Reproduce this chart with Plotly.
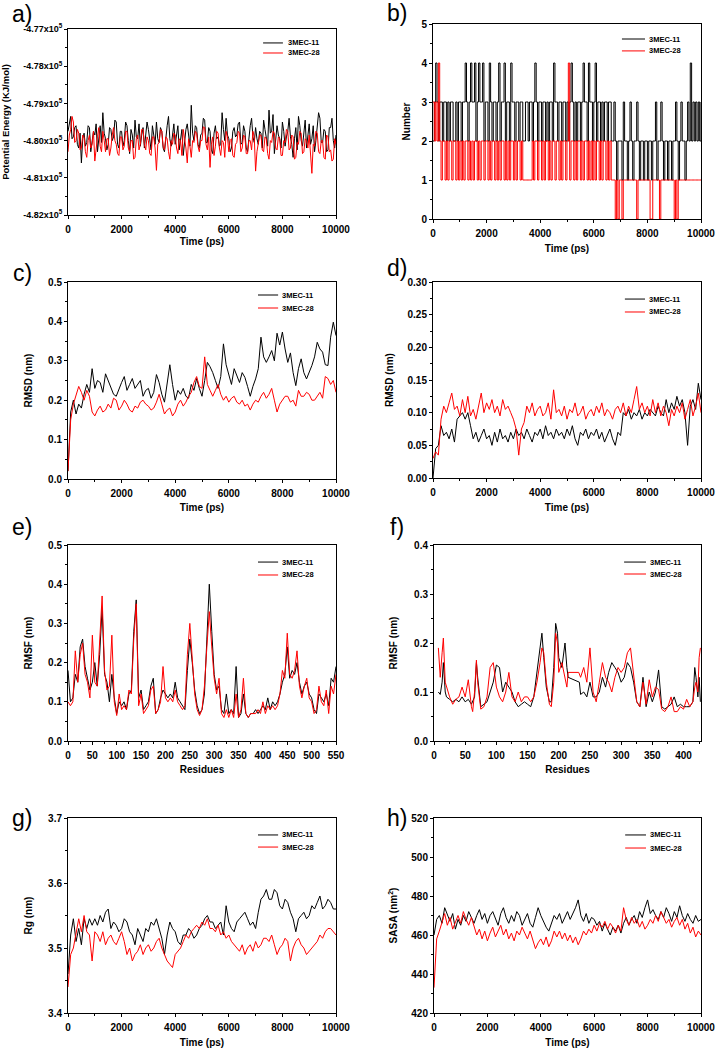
import plotly.graph_objects as go

# ---------------- data ----------------
TIME_PS = list(range(0, 10001, 100))
TIME_PS_FINE = list(range(0, 10001, 50))
SERIES_NAMES = ["3MEC-11", "3MEC-28"]

# a) potential energy, units of 10^5 kJ/mol (sampled every 50 ps)
PE_11 = [-4.7975,-4.7950,-4.7935,-4.7995,-4.7990,-4.7965,-4.7960,-4.8010,-4.8020,-4.7980,
         -4.8060,-4.7995,-4.7980,-4.8015,-4.8005,-4.7960,-4.7965,-4.8030,-4.8000,-4.7975,
         -4.7985,-4.7955,-4.8030,-4.7990,-4.7960,-4.8005,-4.7925,-4.7980,-4.7995,-4.8025,
         -4.8010,-4.7965,-4.7970,-4.8000,-4.7990,-4.7945,-4.7950,-4.8010,-4.8020,-4.7975,
         -4.7975,-4.8015,-4.8000,-4.7950,-4.7960,-4.8000,-4.8035,-4.7970,-4.7985,-4.8020,
         -4.7945,-4.7990,-4.7995,-4.7955,-4.8015,-4.7985,-4.7965,-4.8020,-4.7990,-4.7950,
         -4.7970,-4.8005,-4.8025,-4.7960,-4.7980,-4.8010,-4.7950,-4.7995,-4.8005,-4.7965,
         -4.7975,-4.8020,-4.8030,-4.7985,-4.7960,-4.7935,-4.7995,-4.8015,-4.7985,-4.7955,
         -4.8010,-4.7990,-4.7960,-4.8025,-4.7990,-4.7970,-4.8040,-4.8000,-4.7970,-4.7955,
         -4.7995,-4.8015,-4.7905,-4.7980,-4.8000,-4.7960,-4.7965,-4.8010,-4.8020,-4.7985,
         -4.7980,-4.7940,-4.7945,-4.8005,-4.8005,-4.7965,-4.7975,-4.8025,-4.8035,-4.7980,
         -4.7960,-4.7995,-4.7990,-4.8015,-4.8010,-4.7925,-4.7970,-4.8000,-4.7940,-4.7985,
         -4.7995,-4.8030,-4.8020,-4.7975,-4.7965,-4.7990,-4.7985,-4.7955,-4.7950,-4.8010,
         -4.8005,-4.7960,-4.7975,-4.8020,-4.8030,-4.7985,-4.7960,-4.7940,-4.7990,-4.8005,
         -4.7965,-4.7995,-4.8010,-4.7975,-4.7980,-4.8020,-4.7945,-4.7970,-4.8000,-4.8015,
         -4.7918,-4.7980,-4.7975,-4.7930,-4.8035,-4.8000,-4.7960,-4.7985,-4.7995,-4.8020,
         -4.7950,-4.7975,-4.8015,-4.7990,-4.7975,-4.7940,-4.7990,-4.8010,-4.8045,-4.7995,
         -4.7965,-4.8025,-4.7935,-4.7960,-4.8000,-4.8015,-4.7970,-4.7945,-4.8020,-4.7990,
         -4.7955,-4.8010,-4.7995,-4.7960,-4.8030,-4.8000,-4.7960,-4.7925,-4.7940,-4.8005,
         -4.8005,-4.7970,-4.7975,-4.8030,-4.8025,-4.7965,-4.7965,-4.7940,-4.8000,-4.8020,
         -4.7985]
PE_28 = [-4.8030,-4.7985,-4.7970,-4.7935,-4.7950,-4.8005,-4.8000,-4.7970,-4.7980,-4.8025,
         -4.8020,-4.7985,-4.7990,-4.8030,-4.8045,-4.8000,-4.7985,-4.8020,-4.8010,-4.7975,
         -4.8055,-4.8010,-4.7990,-4.7965,-4.8015,-4.8030,-4.7975,-4.8000,-4.8030,-4.7995,
         -4.7995,-4.8040,-4.8020,-4.7985,-4.7965,-4.8000,-4.8010,-4.8035,-4.8040,-4.7990,
         -4.7990,-4.8025,-4.8015,-4.7975,-4.7975,-4.8020,-4.8030,-4.8000,-4.8000,-4.8050,
         -4.8045,-4.7995,-4.7985,-4.8025,-4.8010,-4.7970,-4.7970,-4.8010,-4.8025,-4.7990,
         -4.8000,-4.8035,-4.8040,-4.7990,-4.7990,-4.8020,-4.8080,-4.8010,-4.8005,-4.7970,
         -4.7975,-4.8015,-4.8025,-4.7990,-4.7995,-4.8030,-4.8050,-4.8000,-4.8010,-4.7980,
         -4.7985,-4.8020,-4.8035,-4.7995,-4.8000,-4.8040,-4.7970,-4.7995,-4.8020,-4.8060,
         -4.7995,-4.8015,-4.8045,-4.8000,-4.8005,-4.7975,-4.7980,-4.8015,-4.8030,-4.8000,
         -4.8000,-4.7963,-4.7965,-4.8010,-4.8025,-4.7990,-4.8072,-4.8010,-4.7990,-4.8040,
         -4.8015,-4.7975,-4.7980,-4.8020,-4.8040,-4.8000,-4.8005,-4.8045,-4.7975,-4.7990,
         -4.8030,-4.8000,-4.7995,-4.8040,-4.8045,-4.8010,-4.8005,-4.7975,-4.7980,-4.8030,
         -4.8020,-4.7985,-4.7990,-4.8035,-4.8035,-4.8000,-4.8000,-4.8025,-4.7975,-4.7990,
         -4.8082,-4.8030,-4.8010,-4.7985,-4.7985,-4.8025,-4.8030,-4.7990,-4.7995,-4.8035,
         -4.8050,-4.8000,-4.8005,-4.7975,-4.7980,-4.8020,-4.8025,-4.7990,-4.7995,-4.8040,
         -4.8040,-4.8000,-4.8005,-4.7970,-4.7975,-4.8025,-4.8020,-4.7985,-4.7990,-4.8050,
         -4.8045,-4.8005,-4.8010,-4.7975,-4.7980,-4.8035,-4.8030,-4.7995,-4.8000,-4.8020,
         -4.7985,-4.8040,-4.8088,-4.8010,-4.8015,-4.7975,-4.7980,-4.8030,-4.8035,-4.8000,
         -4.8000,-4.8045,-4.8050,-4.7985,-4.7990,-4.8030,-4.8025,-4.8055,-4.8050,-4.7995,
         -4.8010]
PE_TICKS = [-4.82, -4.81, -4.80, -4.79, -4.78, -4.77]

# b) number of hydrogen bonds (sampled every 50 ps)
HB_11 = [2,3,4,3,2,3,3,2,3,3, 2,3,2,3,3,2,2,3,2,3, 3,2,3,3,4,3,2,3,4,3,
         3,4,2,3,4,3,3,4,2,3, 3,2,4,3,2,3,3,2,3,4, 2,3,3,4,2,3,3,2,4,3,
         3,2,3,3,2,3,3,2,2,3, 3,2,3,3,2,3,4,3,2,3, 3,2,3,3,2,3,2,3,3,2,
         4,3,3,2,3,3,2,3,3,2, 3,2,3,4,3,2,3,2,3,3, 2,3,4,3,3,2,4,3,3,2,
         3,4,2,3,3,2,3,2,3,3, 2,3,3,2,2,3,2,1,2,2, 2,1,3,2,2,1,2,3,2,1,
         2,2,3,2,1,2,2,1,2,2, 1,2,2,1,2,2,3,1,2,2, 3,2,1,2,2,1,2,2,1,2,
         2,3,2,1,2,3,2,2,1,2, 3,2,4,2,3,2,3,2,3,2, 3]
HB_28 = [3,2,3,2,4,2,1,2,2,1, 2,1,2,2,1,2,2,1,2,1, 2,1,2,1,2,2,1,2,1,2,
         1,2,2,1,2,1,2,2,1,2, 2,1,2,1,2,2,1,2,1,2, 1,2,2,1,2,1,2,1,2,2,
         1,2,1,2,2,1,2,1,1,1, 1,1,1,1,2,1,2,2,1,2, 2,1,2,1,2,2,1,2,1,2,
         2,1,2,2,1,2,1,2,2,1, 2,4,1,2,2,1,2,1,2,2, 1,2,1,2,2,1,2,1,2,1,
         2,1,2,2,1,2,1,2,2,1, 2,1,2,1,1,1,0,1,0,1, 1,0,1,1,1,1,1,1,1,1,
         1,1,0,1,1,1,1,1,1,1, 1,1,0,0,1,1,1,1,1,0, 1,1,1,1,1,1,1,1,1,1,
         0,1,0,1,1,1,1,1,1,1, 1,1,1,1,1,1,1,1,1,1, 1]

# c) backbone RMSD (nm)
RMSD_C_11 = [0.02,0.17,0.20,0.165,0.19,0.18,0.215,0.24,0.22,0.28,
             0.23,0.25,0.245,0.22,0.267,0.25,0.23,0.215,0.21,0.23,
             0.245,0.26,0.225,0.24,0.255,0.23,0.24,0.25,0.21,0.225,
             0.23,0.205,0.22,0.265,0.245,0.215,0.195,0.25,0.29,0.24,
             0.20,0.225,0.215,0.23,0.21,0.205,0.24,0.225,0.255,0.23,
             0.21,0.25,0.296,0.285,0.27,0.25,0.23,0.26,0.343,0.29,
             0.262,0.24,0.28,0.26,0.245,0.27,0.258,0.235,0.21,0.235,
             0.254,0.28,0.36,0.31,0.296,0.31,0.326,0.30,0.37,0.34,
             0.373,0.33,0.296,0.32,0.27,0.237,0.28,0.305,0.27,0.254,
             0.27,0.288,0.31,0.347,0.33,0.322,0.29,0.288,0.36,0.398,
             0.364]
RMSD_C_28 = [0.02,0.15,0.19,0.21,0.235,0.22,0.20,0.225,0.21,0.17,
             0.16,0.175,0.185,0.17,0.175,0.19,0.18,0.205,0.20,0.175,
             0.185,0.20,0.19,0.175,0.17,0.185,0.18,0.195,0.20,0.19,
             0.185,0.175,0.18,0.195,0.215,0.19,0.165,0.175,0.18,0.16,
             0.17,0.19,0.20,0.185,0.195,0.21,0.22,0.245,0.26,0.235,
             0.23,0.31,0.24,0.225,0.21,0.225,0.24,0.215,0.20,0.21,
             0.195,0.205,0.21,0.195,0.19,0.20,0.185,0.19,0.175,0.19,
             0.20,0.195,0.21,0.22,0.205,0.215,0.23,0.20,0.17,0.19,
             0.20,0.21,0.21,0.195,0.20,0.185,0.225,0.21,0.21,0.22,
             0.215,0.20,0.20,0.21,0.22,0.205,0.26,0.255,0.24,0.25,
             0.22]

# d) ligand RMSD (nm)
RMSD_D_11 = [0.0,0.045,0.05,0.08,0.065,0.07,0.06,0.075,0.055,0.09,
             0.095,0.10,0.09,0.10,0.08,0.06,0.07,0.055,0.065,0.075,
             0.06,0.065,0.05,0.07,0.055,0.075,0.06,0.065,0.055,0.07,
             0.06,0.075,0.065,0.07,0.06,0.075,0.065,0.055,0.07,0.065,
             0.075,0.06,0.08,0.065,0.07,0.06,0.075,0.065,0.07,0.06,
             0.075,0.065,0.08,0.06,0.05,0.07,0.065,0.075,0.06,0.07,
             0.065,0.075,0.06,0.07,0.055,0.065,0.075,0.06,0.05,0.07,
             0.065,0.10,0.095,0.105,0.09,0.10,0.095,0.105,0.09,0.10,
             0.095,0.105,0.10,0.095,0.11,0.10,0.095,0.12,0.10,0.115,
             0.105,0.125,0.11,0.12,0.10,0.05,0.11,0.12,0.105,0.145,
             0.12]
RMSD_D_28 = [0.03,0.04,0.035,0.09,0.11,0.10,0.115,0.13,0.105,0.11,
             0.095,0.12,0.10,0.125,0.095,0.105,0.09,0.11,0.13,0.10,
             0.115,0.105,0.12,0.10,0.11,0.095,0.12,0.105,0.11,0.10,
             0.09,0.075,0.035,0.075,0.085,0.11,0.10,0.115,0.095,0.105,
             0.11,0.095,0.10,0.115,0.09,0.135,0.10,0.105,0.095,0.11,
             0.09,0.105,0.10,0.115,0.095,0.10,0.11,0.09,0.10,0.105,
             0.095,0.11,0.10,0.115,0.095,0.105,0.10,0.09,0.105,0.11,
             0.10,0.115,0.095,0.11,0.10,0.12,0.14,0.105,0.115,0.10,
             0.11,0.095,0.12,0.10,0.115,0.095,0.11,0.10,0.08,0.105,
             0.095,0.11,0.10,0.115,0.09,0.105,0.12,0.095,0.11,0.13,
             0.10]

# e) RMSF per residue (nm)
RES_E = list(range(0, 551, 5))
RMSF_E_11 = [0.18,0.10,0.11,0.17,0.15,0.24,0.26,0.19,0.16,0.13,
             0.15,0.20,0.14,0.22,0.34,0.17,0.15,0.10,0.17,0.11,
             0.07,0.10,0.09,0.10,0.08,0.12,0.13,0.28,0.36,0.11,
             0.13,0.08,0.09,0.10,0.14,0.16,0.07,0.08,0.11,0.13,
             0.12,0.11,0.12,0.11,0.15,0.11,0.10,0.09,0.08,0.18,
             0.26,0.20,0.13,0.09,0.07,0.08,0.12,0.26,0.40,0.28,
             0.17,0.13,0.14,0.08,0.07,0.12,0.07,0.08,0.07,0.19,
             0.06,0.07,0.12,0.07,0.06,0.07,0.07,0.08,0.07,0.08,
             0.09,0.08,0.11,0.08,0.10,0.09,0.10,0.12,0.15,0.17,
             0.24,0.16,0.18,0.17,0.20,0.15,0.12,0.14,0.15,0.12,
             0.11,0.08,0.07,0.12,0.11,0.10,0.12,0.09,0.16,0.15,
             0.19]
RMSF_E_28 = [0.10,0.09,0.10,0.23,0.15,0.22,0.25,0.17,0.15,0.11,
             0.27,0.15,0.14,0.24,0.37,0.18,0.13,0.14,0.27,0.10,
             0.065,0.12,0.08,0.09,0.08,0.13,0.12,0.26,0.35,0.09,
             0.12,0.07,0.08,0.09,0.13,0.14,0.07,0.08,0.10,0.19,
             0.11,0.10,0.11,0.10,0.13,0.10,0.09,0.08,0.09,0.22,
             0.30,0.22,0.12,0.08,0.065,0.08,0.14,0.24,0.33,0.24,
             0.16,0.12,0.16,0.07,0.06,0.08,0.06,0.08,0.06,0.12,
             0.06,0.08,0.16,0.07,0.06,0.07,0.07,0.07,0.08,0.07,
             0.10,0.07,0.09,0.08,0.09,0.08,0.09,0.12,0.18,0.16,
             0.275,0.17,0.16,0.18,0.23,0.14,0.11,0.14,0.16,0.11,
             0.10,0.07,0.08,0.14,0.10,0.09,0.13,0.07,0.14,0.12,
             0.17]

# f) RMSF per residue (nm)
RES_F_11 = [7,10,13,15,18,20,25,30,35,40,45,50,55,60,65,68,70,75,80,85,90,95,100,105,110,
            115,120,125,130,135,140,145,150,155,160,165,170,173,176,180,185,188,192,195,198,
            200,205,210,213,215,233,235,240,245,250,255,260,265,270,275,280,285,290,295,300,
            305,310,315,320,325,330,335,340,345,350,355,360,365,370,375,380,385,390,395,400,
            405,410,415,418,420,423,425,427]
RMSF_F_11 = [0.10,0.095,0.12,0.16,0.10,0.09,0.085,0.08,0.085,0.08,0.09,0.08,0.085,0.075,0.09,
             0.16,0.13,0.07,0.075,0.08,0.10,0.12,0.155,0.15,0.10,0.12,0.11,0.10,0.08,0.07,
             0.075,0.08,0.075,0.07,0.09,0.14,0.20,0.22,0.17,0.11,0.08,0.08,0.15,0.24,0.22,
             0.17,0.15,0.20,0.15,0.13,0.12,0.095,0.10,0.09,0.12,0.09,0.09,0.10,0.13,0.11,
             0.14,0.16,0.15,0.14,0.12,0.13,0.16,0.15,0.12,0.08,0.07,0.13,0.07,0.10,0.08,
             0.10,0.145,0.07,0.065,0.07,0.075,0.09,0.07,0.075,0.07,0.07,0.07,0.08,0.15,0.13,
             0.09,0.13,0.08]
RES_F_28 = [7,10,13,15,18,20,25,30,35,40,45,50,55,60,62,65,68,70,75,80,85,90,95,100,105,
            110,115,120,125,130,135,140,145,150,155,160,165,170,173,176,180,185,188,192,195,
            198,200,205,210,213,215,232,235,240,245,250,255,260,265,270,275,280,285,290,295,
            300,305,310,315,320,325,330,335,340,345,350,355,360,365,370,375,380,385,390,395,
            400,405,410,415,418,420,423,425,427]
RMSF_F_28 = [0.19,0.13,0.18,0.21,0.12,0.11,0.09,0.075,0.085,0.09,0.11,0.09,0.125,0.07,0.06,
             0.10,0.165,0.12,0.065,0.07,0.09,0.15,0.16,0.11,0.09,0.08,0.10,0.14,0.09,0.08,
             0.10,0.08,0.09,0.09,0.08,0.09,0.12,0.16,0.19,0.18,0.12,0.075,0.07,0.12,0.22,
             0.20,0.14,0.16,0.13,0.11,0.14,0.14,0.13,0.15,0.12,0.19,0.10,0.08,0.12,0.16,
             0.13,0.12,0.10,0.13,0.15,0.14,0.15,0.18,0.19,0.13,0.08,0.07,0.12,0.075,0.125,
             0.09,0.11,0.105,0.065,0.06,0.07,0.09,0.06,0.06,0.07,0.065,0.085,0.07,0.08,0.11,
             0.12,0.10,0.17,0.19]

# g) radius of gyration (nm)
RG_11 = [3.46,3.52,3.545,3.51,3.53,3.505,3.545,3.53,3.545,3.535,
         3.545,3.535,3.55,3.54,3.555,3.56,3.53,3.54,3.535,3.525,
         3.53,3.545,3.54,3.525,3.52,3.505,3.53,3.52,3.51,3.53,
         3.525,3.54,3.535,3.545,3.53,3.515,3.49,3.52,3.54,3.53,
         3.525,3.51,3.505,3.52,3.52,3.53,3.525,3.515,3.52,3.53,
         3.535,3.545,3.55,3.54,3.54,3.53,3.535,3.54,3.52,3.565,
         3.54,3.53,3.525,3.54,3.545,3.55,3.555,3.545,3.535,3.54,
         3.53,3.555,3.575,3.58,3.59,3.575,3.575,3.59,3.585,3.565,
         3.56,3.575,3.57,3.555,3.545,3.525,3.545,3.55,3.555,3.545,
         3.55,3.565,3.56,3.57,3.58,3.56,3.565,3.575,3.57,3.56,
         3.56]
RG_28 = [3.44,3.49,3.50,3.52,3.545,3.525,3.55,3.525,3.52,3.48,
         3.525,3.52,3.51,3.525,3.505,3.515,3.52,3.51,3.505,3.515,
         3.525,3.51,3.49,3.50,3.48,3.49,3.495,3.505,3.49,3.50,
         3.505,3.495,3.50,3.51,3.515,3.50,3.49,3.48,3.475,3.47,
         3.49,3.495,3.50,3.51,3.52,3.515,3.525,3.53,3.535,3.53,
         3.54,3.535,3.545,3.53,3.53,3.525,3.535,3.52,3.525,3.515,
         3.52,3.51,3.505,3.50,3.495,3.505,3.49,3.50,3.505,3.495,
         3.51,3.50,3.505,3.515,3.515,3.51,3.52,3.505,3.49,3.50,
         3.505,3.515,3.51,3.48,3.50,3.51,3.515,3.505,3.50,3.49,
         3.495,3.50,3.505,3.51,3.52,3.515,3.525,3.53,3.53,3.525,
         3.52]

# h) SASA (nm^2)
SASA_11 = [460,468,470,466,474,470,467,471,463,468,
           465,470,467,472,469,466,470,473,468,471,
           466,470,472,468,465,471,474,469,466,470,
           467,472,470,465,468,471,466,464,469,474,
           470,467,464,462,466,470,468,471,466,469,
           472,468,471,474,478,470,467,471,466,469,
           468,465,467,462,466,463,460,464,462,465,
           461,466,469,465,468,470,466,472,469,474,
           478,471,473,470,468,472,469,474,471,467,
           472,469,475,470,467,471,468,466,470,467,
           468]
SASA_28 = [433,458,462,466,471,465,469,463,467,470,
           466,472,468,465,469,464,460,463,458,462,
           457,461,464,459,462,465,460,463,458,461,
           457,462,460,464,461,458,462,457,453,456,
           458,455,459,454,457,462,459,462,458,461,
           457,460,456,459,455,458,462,460,463,461,
           465,462,466,464,467,463,466,464,461,465,
           462,474,468,465,469,466,468,464,467,463,
           465,468,466,470,467,472,469,466,468,464,
           467,469,465,468,463,466,461,464,459,462,
           460]

# ---------------- styling ----------------
FONT = "Arial, 'Liberation Sans', sans-serif"
COLORS = ["#000000", "#ff0000"]

W, H = 716, 1049


def fx(px):
    return px / W


def fy(py):
    return 1 - py / H


panels = [
    dict(label="a)", x=(TIME_PS_FINE, TIME_PS_FINE), y=(PE_11, PE_28), shape="linear",
         xd=(68, 336), yd=(29, 215), xr=(0, 10000), yr=(-4.82, -4.77),
         xdt=2000, xm=1000, ydt=0.01, ym=0.005, ytv=PE_TICKS,
         ytt=["%.2fx10<sup>5</sup>" % v for v in PE_TICKS], ytf=9, ttf=9.5,
         xt="Time (ps)", yt="Potential Energy (KJ/mol)", ystand=12, xstand=3,
         leg=(0.728, 0.802, 0.813, 0.925, 0.871), lab=(22, 14)),
    dict(label="b)", x=(TIME_PS_FINE, TIME_PS_FINE), y=(HB_11, HB_28), shape="hv",
         xd=(433, 701), yd=(24, 219), xr=(0, 10000), yr=(0, 5),
         xdt=2000, xm=1000, ydt=1, ym=0.5, tf=None,
         xt="Time (ps)", yt="Number", ystand=8, xstand=6,
         leg=(0.705, 0.791, 0.799, 0.923, 0.862), lab=(397, 13)),
    dict(label="c)", x=(TIME_PS, TIME_PS), y=(RMSD_C_11, RMSD_C_28), shape="linear",
         xd=(68, 336), yd=(282, 479), xr=(0, 10000), yr=(0, 0.5),
         xdt=2000, xm=1000, ydt=0.1, ym=0.05, tf=".1f",
         xt="Time (ps)", yt="RMSD (nm)", ystand=13, xstand=5,
         leg=(0.709, 0.784, 0.791, 0.934, 0.868), lab=(22, 273)),
    dict(label="d)", x=(TIME_PS, TIME_PS), y=(RMSD_D_11, RMSD_D_28), shape="linear",
         xd=(433, 701), yd=(282, 478), xr=(0, 10000), yr=(0, 0.30),
         xdt=2000, xm=1000, ydt=0.05, ym=0.025, tf=".2f",
         xt="Time (ps)", yt="RMSD (nm)", ystand=12, xstand=6,
         leg=(0.716, 0.791, 0.799, 0.913, 0.847), lab=(397, 268)),
    dict(label="e)", x=(RES_E, RES_E), y=(RMSF_E_11, RMSF_E_28), shape="linear",
         xd=(68, 336), yd=(545, 741), xr=(0, 550), yr=(0, 0.5),
         xdt=50, xm=25, ydt=0.1, ym=0.05, tf=".1f",
         xt="Residues", yt="RMSF (nm)", ystand=13, xstand=5,
         leg=(0.709, 0.784, 0.791, 0.913, 0.847), lab=(22, 527)),
    dict(label="f)", x=(RES_F_11, RES_F_28), y=(RMSF_F_11, RMSF_F_28), shape="linear",
         xd=(434, 701), yd=(545, 741), xr=(0, 428), yr=(0, 0.4),
         xdt=50, xm=25, ydt=0.1, ym=0.05, tf=".1f",
         xt="Residues", yt="RMSF (nm)", ystand=14, xstand=5,
         leg=(0.712, 0.794, 0.801, 0.913, 0.852), lab=(397, 527)),
    dict(label="g)", x=(TIME_PS, TIME_PS), y=(RG_11, RG_28), shape="linear",
         xd=(68, 336), yd=(818, 1013), xr=(0, 10000), yr=(3.4, 3.7),
         xdt=2000, xm=1000, ydt=0.1, ym=0.05, tf=".1f",
         xt="Time (ps)", yt="Rg (nm)", ystand=13, xstand=6,
         leg=(0.709, 0.784, 0.791, 0.913, 0.851), lab=(22, 818)),
    dict(label="h)", x=(TIME_PS, TIME_PS), y=(SASA_11, SASA_28), shape="linear",
         xd=(434, 701), yd=(818, 1013), xr=(0, 10000), yr=(420, 520),
         xdt=2000, xm=1000, ydt=20, ym=10, tf=None,
         xt="Time (ps)", yt="SASA (nm<sup>2</sup>)", ystand=11, xstand=6,
         leg=(0.716, 0.794, 0.801, 0.913, 0.846), lab=(397, 818)),
]

fig = go.Figure()
layout = dict(width=W, height=H, margin=dict(l=0, r=0, t=0, b=0, pad=0),
              paper_bgcolor="white", plot_bgcolor="white", showlegend=False,
              font=dict(family=FONT, color="black"))
annotations, shapes = [], []

for i, p in enumerate(panels, start=1):
    xa = "xaxis" if i == 1 else f"xaxis{i}"
    ya = "yaxis" if i == 1 else f"yaxis{i}"
    xref = "x" if i == 1 else f"x{i}"
    yref = "y" if i == 1 else f"y{i}"
    for k in range(2):
        fig.add_trace(go.Scatter(x=p["x"][k], y=p["y"][k], name=SERIES_NAMES[k],
                                 mode="lines", line=dict(color=COLORS[k], width=1, shape=p["shape"]),
                                 xaxis=xref, yaxis=yref))
    ytick_size = p.get("ytf", 10)
    title_size = p.get("ttf", 10)
    common = dict(showline=True, linecolor="black", linewidth=1, mirror=True,
                  showgrid=False, zeroline=False, ticks="outside", ticklen=3,
                  tickwidth=1, tickcolor="black", automargin=False)
    layout[xa] = dict(common, domain=[fx(p["xd"][0]), fx(p["xd"][1])], range=list(p["xr"]),
                      anchor=yref, dtick=p["xdt"], tick0=0, tickformat="d",
                      tickfont=dict(family=FONT, size=10, color="black", weight="bold"),
                      ticklabelstandoff=2,
                      minor=dict(ticks="outside", ticklen=2, dtick=p["xm"], tick0=0, tickcolor="black"),
                      title=dict(text=p["xt"], standoff=p["xstand"],
                                 font=dict(family=FONT, size=10, color="black", weight="bold")))
    yax = dict(common, domain=[fy(p["yd"][1]), fy(p["yd"][0])], range=list(p["yr"]),
               anchor=xref,
               tickfont=dict(family=FONT, size=ytick_size, color="black", weight="bold"),
               minor=dict(ticks="outside", ticklen=2, dtick=p["ym"], tick0=p["yr"][0], tickcolor="black"),
               title=dict(text=p["yt"], standoff=p["ystand"],
                          font=dict(family=FONT, size=title_size, color="black", weight="bold")))
    if "ytv" in p:
        yax.update(tickmode="array", tickvals=p["ytv"], ticktext=p["ytt"])
    else:
        yax.update(dtick=p["ydt"], tick0=p["yr"][0])
        if p.get("tf"):
            yax.update(tickformat=p["tf"])
    layout[ya] = yax

    # legend drawn inside the top right of each panel: line samples + labels
    x0, x1, xt, r1, r2 = p["leg"]
    for k, ry in enumerate((r1, r2)):
        shapes.append(dict(type="line", xref=f"{xref} domain", yref=f"{yref} domain",
                           x0=x0, x1=x1, y0=ry, y1=ry, line=dict(color=COLORS[k], width=1)))
        annotations.append(dict(text=SERIES_NAMES[k], xref=f"{xref} domain", yref=f"{yref} domain",
                                x=xt, y=ry, xanchor="left", yanchor="middle", showarrow=False,
                                font=dict(family=FONT, size=7.5, color="black", weight="bold")))
    # panel label
    annotations.append(dict(text=p["label"], xref="paper", yref="paper",
                            x=fx(p["lab"][0]), y=fy(p["lab"][1]), xanchor="center", yanchor="middle",
                            showarrow=False, font=dict(family=FONT, size=23, color="black")))

layout["annotations"] = annotations
layout["shapes"] = shapes
fig.update_layout(**layout)
# remove the browser's default 8px page margin so the 716x1049 figure fills the window
fig.write_html("out.html", config={"displayModeBar": False},
               post_script="document.body.style.margin='0px';")
